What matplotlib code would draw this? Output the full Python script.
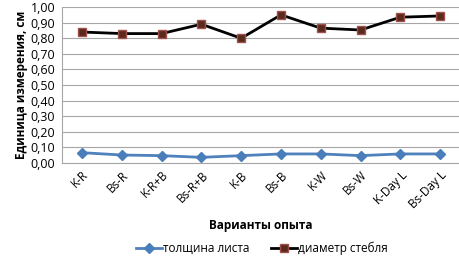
import matplotlib
matplotlib.use("Agg")
import matplotlib.pyplot as plt

plt.rcParams['font.family'] = ['Open Sans', 'DejaVu Sans']

categories = ["K-R", "Bs-R", "K-R+B", "Bs-R+B", "K-B", "Bs-B", "K-W", "Bs-W", "K-Day L", "Bs-Day L"]
leaf_thickness = [0.066, 0.051, 0.047, 0.036, 0.047, 0.058, 0.058, 0.047, 0.058, 0.058]
stem_diameter = [0.84, 0.83, 0.83, 0.89, 0.80, 0.95, 0.865, 0.853, 0.935, 0.943]
yticks = [0.0, 0.1, 0.2, 0.3, 0.4, 0.5, 0.6, 0.7, 0.8, 0.9, 1.0]

fig = plt.figure(figsize=(4.6, 2.62), dpi=100)
ax = fig.add_axes([0.135, 0.378, 0.865, 0.595])

x = list(range(len(categories)))
ax.plot(x, leaf_thickness, color="#4F81BD", lw=2, marker="D", ms=5,
        mfc="#4A7EBB", mec="#4A7EBB", label="толщина листа")
ax.plot(x, stem_diameter, color="black", lw=2, marker="s", ms=6,
        mfc="#5A2A1E", mec="#A0504A", label="диаметр стебля")

ax.set_xlim(-0.5, len(categories) - 0.5)
ax.set_ylim(0, 1.0)
ax.set_yticks(yticks)
ax.set_yticklabels([f"{v:.2f}".replace(".", ",") for v in yticks], fontsize=9)
ax.set_xticks(x)
ax.set_xticklabels(categories, rotation=45, ha="right", rotation_mode="anchor", fontsize=8.5)
ax.tick_params(axis="both", length=0, pad=4)
ax.tick_params(axis="y", pad=5)
ax.grid(axis="y", color="#A6A6A6", lw=0.8)
ax.set_axisbelow(True)
for s in ["top", "right"]:
    ax.spines[s].set_visible(False)
ax.spines["left"].set_color("#A6A6A6")
ax.spines["bottom"].set_color("#A6A6A6")

ax.set_ylabel("Единица измерения, см", fontsize=8.5, fontweight="bold", labelpad=2)
ax.set_xlabel("Варианты опыта", fontsize=8.5, fontweight="bold", labelpad=6)

fig.legend(loc="lower center", bbox_to_anchor=(0.57, -0.015), ncol=2, frameon=False,
           fontsize=8.5, handlelength=2.2, columnspacing=1.8, handletextpad=0.1)

fig.savefig("out.png", dpi=100)
